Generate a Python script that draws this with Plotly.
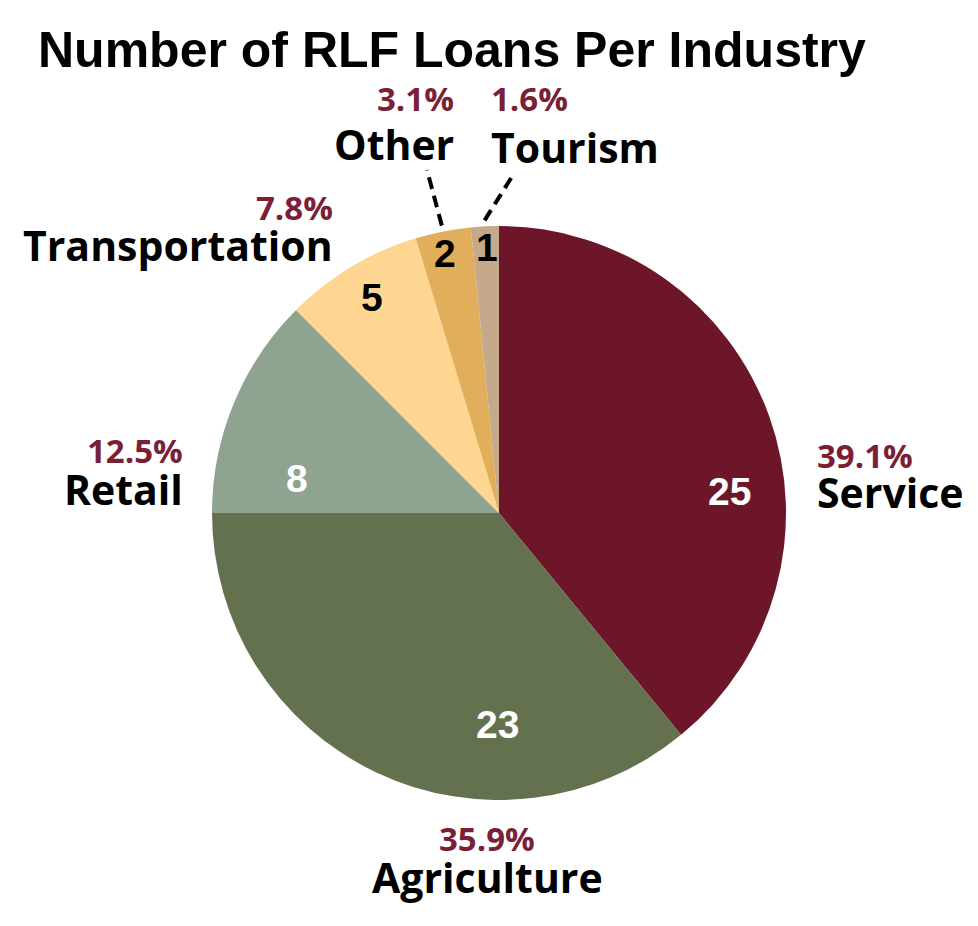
import math
import plotly.graph_objects as go

W, H = 978, 926
PAGE_OFFSET = 8  # the page body margin shifts the figure

industries = ["Service", "Agriculture", "Retail", "Transportation", "Other", "Tourism"]
loans = [25, 23, 8, 5, 2, 1]
slice_colors = ["#6D1629", "#63714F", "#8FA391", "#FFD592", "#E1AE5C", "#C4A98A"]
number_colors = ["white", "white", "white", "black", "black", "black"]

total = sum(loans)
percents = [f"{v / total * 100:.1f}%" for v in loans]

# pie placement (screen pixels)
cx, cy, rad = 499, 513, 287

# hand placed label spots (screen pixels): x, y of percent, y of name, anchor
outside_pos = {
    "Service": (815, 456, 492, "left"),
    "Agriculture": (487, 838, 877, "center"),
    "Retail": (185, 450, 489, "right"),
    "Transportation": (335, 207, 245, "right"),
    "Other": (456, 99, 144, "right"),
    "Tourism": (489, 99, 147, "left"),
}
inside_pos = {
    "Service": (729, 492),
    "Agriculture": (497, 724),
    "Retail": (297, 478),
    "Transportation": (372, 298),
    "Other": (445, 253),
    "Tourism": (487, 248),
}
leader_end = {"Other": (427, 170), "Tourism": (513, 175)}


def to_paper(x, y):
    return (x - PAGE_OFFSET) / W, 1 - (y - PAGE_OFFSET) / H


dx0, dy1 = to_paper(cx - rad, cy - rad)
dx1, dy0 = to_paper(cx + rad, cy + rad)

fig = go.Figure(go.Pie(
    labels=industries,
    values=loans,
    sort=False,
    direction="clockwise",
    rotation=0,
    marker=dict(colors=slice_colors, line=dict(width=0)),
    textinfo="none",
    hoverinfo="label+value+percent",
    showlegend=False,
    domain=dict(x=[dx0, dx1], y=[dy0, dy1]),
))

annotations = []
shapes = []
label_font = "Open Sans, Noto Sans, sans-serif"
cum = 0
for name, v, pct, ncol in zip(industries, loans, percents, number_colors):
    mid = (cum + v / 2) / total * 2 * math.pi
    cum += v

    x, yp, yn, anchor = outside_pos[name]
    px_, py_ = to_paper(x, yp)
    annotations.append(dict(x=px_, y=py_, xref="paper", yref="paper", text=f"<b>{pct}</b>",
                            showarrow=False, xanchor=anchor, yanchor="middle",
                            font=dict(family=label_font, size=33, color="#7A1F35")))
    px_, py_ = to_paper(x, yn)
    annotations.append(dict(x=px_, y=py_, xref="paper", yref="paper", text=f"<b>{name}</b>",
                            showarrow=False, xanchor=anchor, yanchor="middle",
                            font=dict(family=label_font, size=41, color="black")))

    ix, iy = inside_pos[name]
    px_, py_ = to_paper(ix, iy)
    annotations.append(dict(x=px_, y=py_, xref="paper", yref="paper", text=f"<b>{v}</b>",
                            showarrow=False, xanchor="center", yanchor="middle",
                            font=dict(family="Liberation Sans, Arial, sans-serif", size=39, color=ncol)))

    if name in leader_end:
        sx = cx + (rad + 6) * math.sin(mid)
        sy = cy - (rad + 6) * math.cos(mid)
        ex, ey = leader_end[name]
        x0, y0 = to_paper(sx, sy)
        x1, y1 = to_paper(ex, ey)
        shapes.append(dict(type="line", xref="paper", yref="paper", x0=x0, y0=y0, x1=x1, y1=y1,
                           line=dict(color="black", width=4, dash="12px,7px")))

tx, ty = to_paper(452, 50)
annotations.append(dict(x=tx, y=ty, xref="paper", yref="paper",
                        text="<b>Number of RLF Loans Per Industry</b>", showarrow=False,
                        xanchor="center", yanchor="middle",
                        font=dict(family="Liberation Sans Narrow, Arial Narrow, sans-serif",
                                  size=50, color="black")))

fig.update_layout(
    width=W, height=H,
    margin=dict(l=0, r=0, t=0, b=0),
    paper_bgcolor="white",
    plot_bgcolor="white",
    annotations=annotations,
    shapes=shapes,
)

fig.write_html("out.html")
